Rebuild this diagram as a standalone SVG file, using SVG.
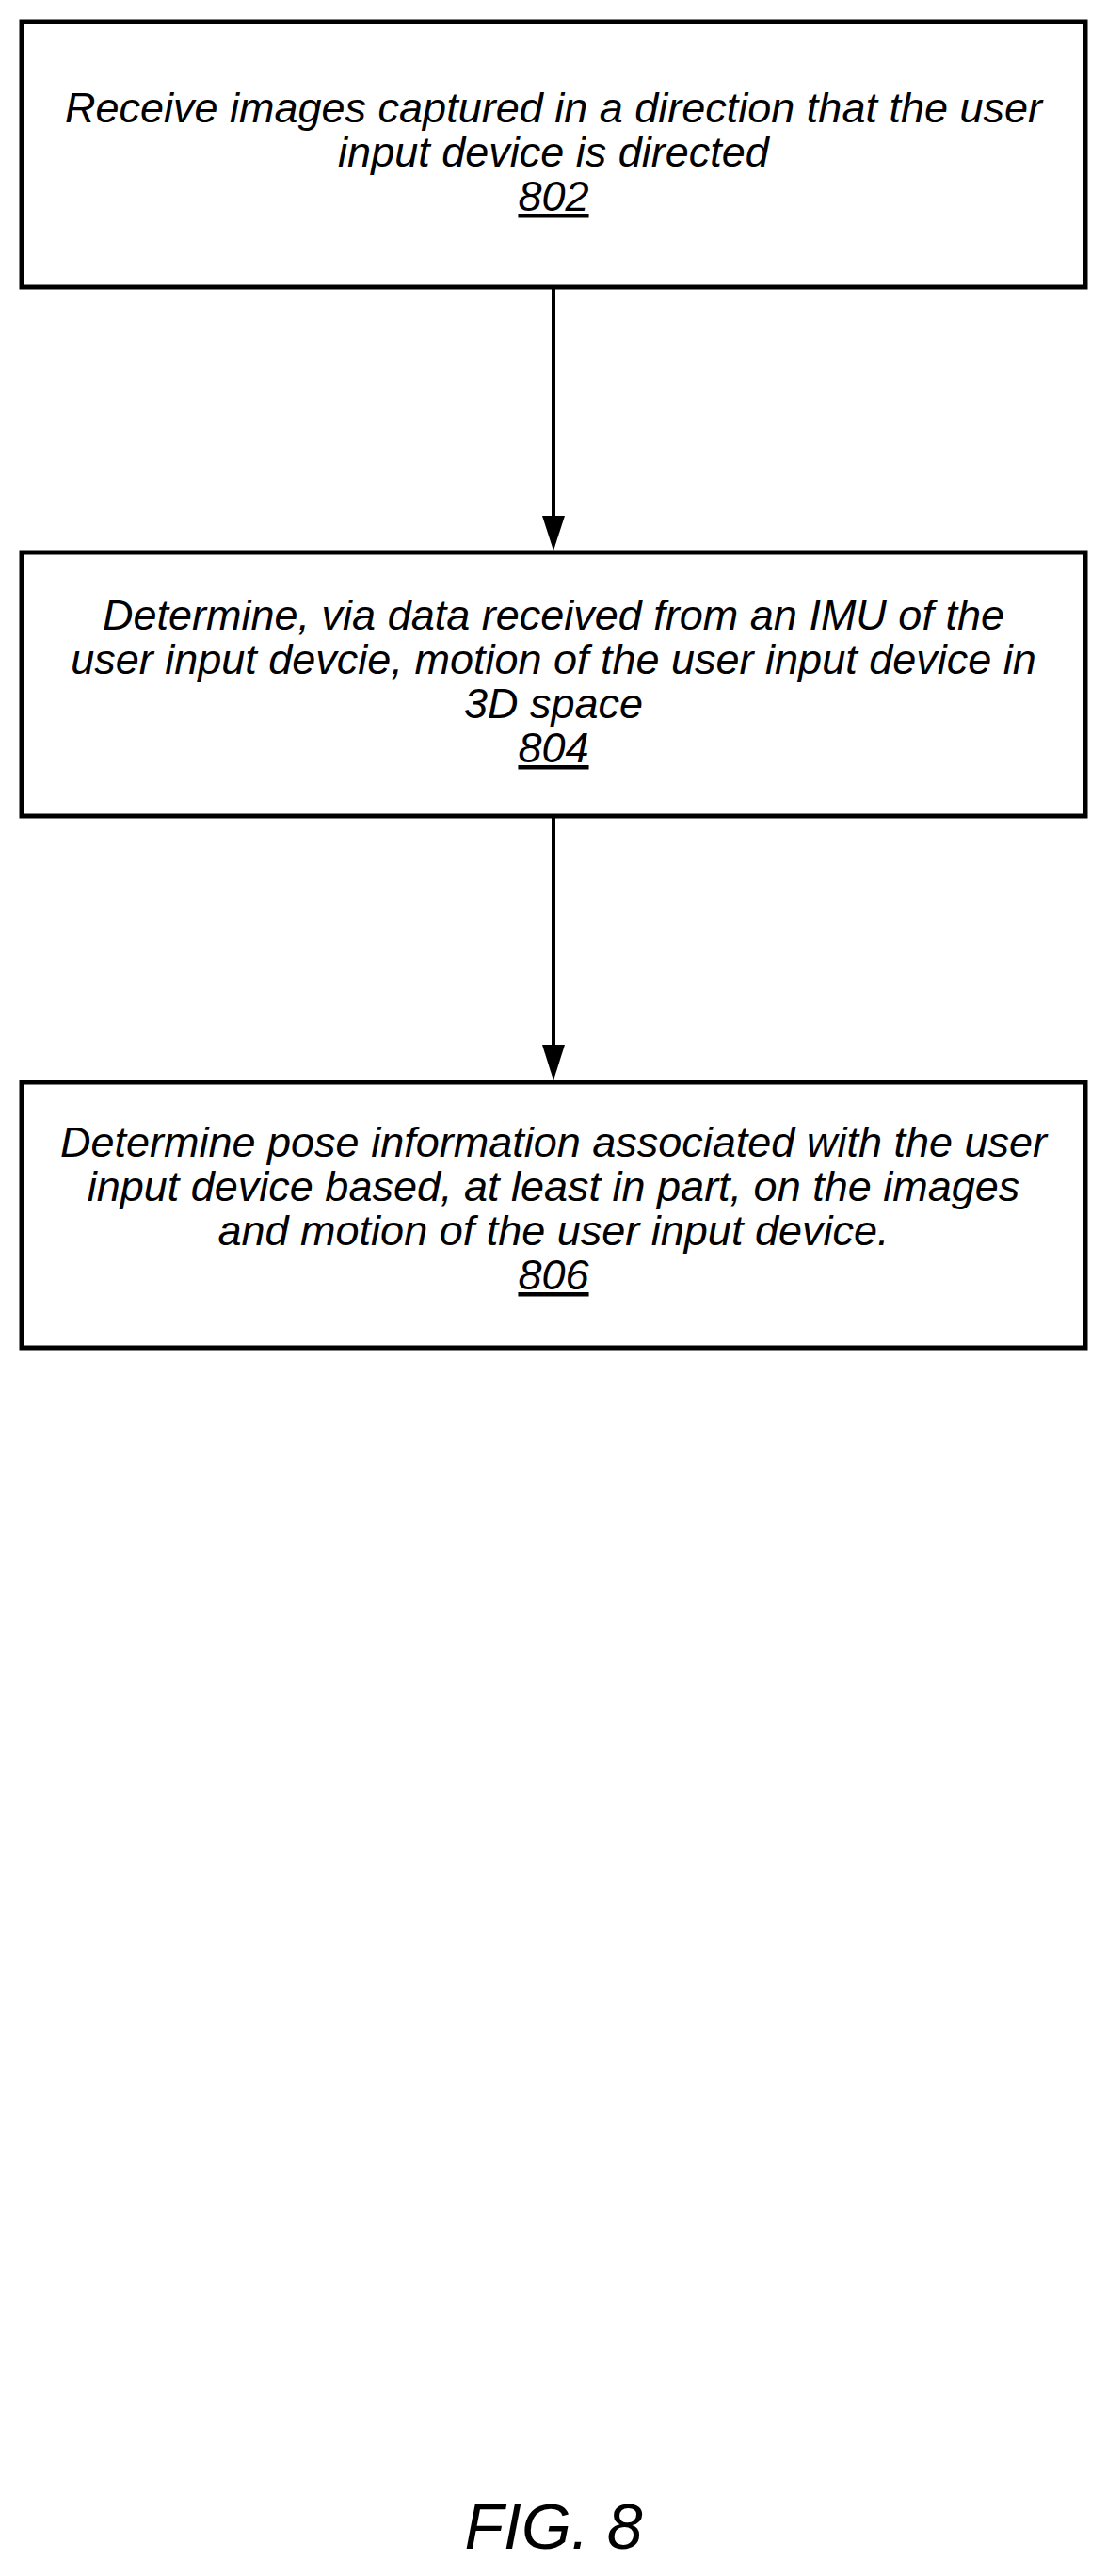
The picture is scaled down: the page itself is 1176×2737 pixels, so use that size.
<svg xmlns="http://www.w3.org/2000/svg" width="1176" height="2737" viewBox="0 0 1176 2737">
<style>
.box{fill:#fff;stroke:#000;stroke-width:5}
text{font-family:"Liberation Sans",Arial,sans-serif;font-style:italic;font-size:45px;text-anchor:middle;fill:#000}
.u{text-decoration:underline}
.ln{stroke:#000;stroke-width:4;fill:none}
</style>
<rect width="1176" height="2737" fill="#fff"/>
<g id="n802"><rect class="box" x="23" y="23" width="1130" height="282"/>
<text x="588" y="130">Receive images captured in a direction that the user</text>
<text x="588" y="177">input device is directed</text>
<text x="588" y="224" class="u">802</text></g>
<g id="n804"><rect class="box" x="23" y="587" width="1130" height="280"/>
<text x="588" y="669">Determine, via data received from an IMU of the</text>
<text x="588" y="716">user input devcie, motion of the user input device in</text>
<text x="588" y="763">3D space</text>
<text x="588" y="810" class="u">804</text></g>
<g id="n806"><rect class="box" x="23" y="1150" width="1130" height="282"/>
<text x="588" y="1229">Determine pose information associated with the user</text>
<text x="588" y="1276">input device based, at least in part, on the images</text>
<text x="588" y="1323">and motion of the user input device.</text>
<text x="588" y="1370" class="u">806</text></g>
<g id="connectors">
<line class="ln" x1="588" y1="305" x2="588" y2="550"/>
<polygon points="576,548 600,548 588,585"/>
<line class="ln" x1="588" y1="867" x2="588" y2="1112"/>
<polygon points="576,1110 600,1110 588,1148"/>
</g>
<text x="588" y="2708" style="font-size:68px">FIG. 8</text>
</svg>
